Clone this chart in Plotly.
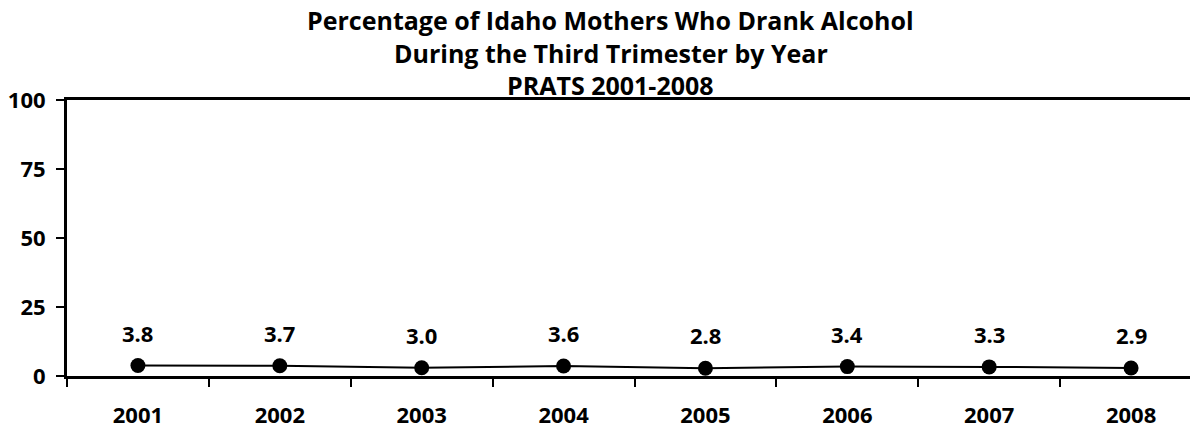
import plotly.graph_objects as go

years = ["2001", "2002", "2003", "2004", "2005", "2006", "2007", "2008"]
values = [3.8, 3.7, 3.0, 3.6, 2.8, 3.4, 3.3, 2.9]
labels = ["3.8", "3.7", "3.0", "3.6", "2.8", "3.4", "3.3", "2.9"]
y_ticks = [0, 25, 50, 75, 100]
title_lines = ["Percentage of Idaho Mothers Who Drank Alcohol",
               "During the Third Trimester by Year",
               "PRATS 2001-2008"]

FONT = "Open Sans"
TICK = dict(family=FONT, size=22, color="black", weight="bold")

fig = go.Figure()
fig.add_trace(go.Scatter(
    x=years, y=values, mode="lines+markers",
    line=dict(color="black", width=2),
    marker=dict(color="black", size=15),
    hoverinfo="skip", showlegend=False,
))

for i, (yr, v, lab) in enumerate(zip(years, values, labels)):
    fig.add_annotation(x=i, y=v, xref="x", yref="y", text="<b>" + lab + "</b>",
                       showarrow=False, yshift=33, xanchor="center", yanchor="middle",
                       font=dict(family=FONT, size=22, color="black"))

# title lines (page y centres ~19, 52, 85; plot area spans page y 100..380)
for line, py in zip(title_lines, [19, 52, 85]):
    fig.add_annotation(x=(610 - 66) / 1132, y=(380 - py) / 280, xref="paper", yref="paper",
                       text="<b>" + line + "</b>", showarrow=False,
                       xanchor="center", yanchor="middle",
                       font=dict(family=FONT, size=25, color="black"))

fig.update_layout(
    width=1190, height=421,
    margin=dict(l=58, r=0, t=92, b=49),
    paper_bgcolor="white", plot_bgcolor="white",
    font=dict(family=FONT, size=22, color="black"),
)

fig.update_xaxes(
    type="category", range=[-0.5, -0.5 + 1132 / 142],
    showline=True, linecolor="black", linewidth=3, mirror=True,
    ticks="outside", tickson="boundaries", ticklen=8, tickwidth=2, tickcolor="black",
    ticklabelstandoff=18,
    tickfont=TICK,
    showgrid=False, zeroline=False, fixedrange=True,
)
fig.update_yaxes(
    range=[0, 100], tickvals=y_ticks, ticktext=[str(t) for t in y_ticks],
    showline=True, linecolor="black", linewidth=3,
    ticks="outside", ticklen=8, tickwidth=2, tickcolor="black",
    ticklabelstandoff=6,
    tickfont=TICK,
    showgrid=False, zeroline=False, fixedrange=True,
)

fig.write_html("out.html")
